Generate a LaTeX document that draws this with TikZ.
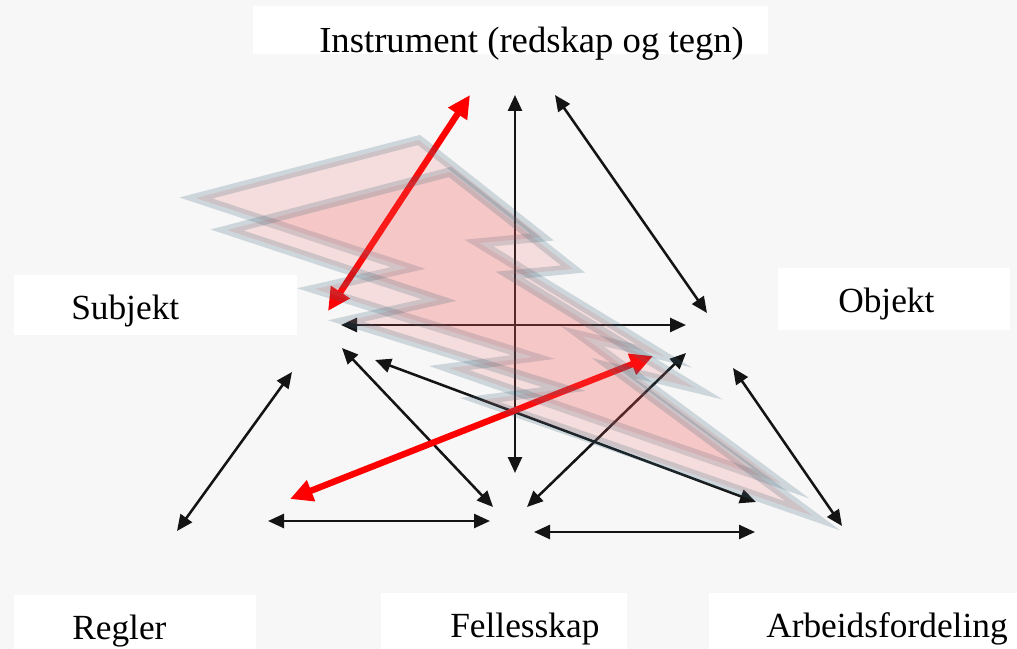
\documentclass[tikz,border=0pt]{standalone}
\usepackage{fontspec}
\setmainfont{Liberation Serif}
\usetikzlibrary{arrows.meta}

\definecolor{bggray}{RGB}{247,247,247}
\definecolor{boltfill}{RGB}{245,90,90}
\definecolor{boltedge}{RGB}{60,100,120}

\begin{document}
\begin{tikzpicture}[
    x=0.75pt, y=-0.75pt,
    >={Triangle[length=12pt, width=10.5pt]},
    lbl/.style={anchor=base west, inner sep=0pt,
                font=\fontsize{26.5pt}{30pt}\selectfont},
    link/.style={<->, line width=1.9pt, black!92},
    redlink/.style={<->, line width=4.8pt, red,
                    >={Triangle[length=17pt, width=16pt]}},
    bolt/.style={fill=boltfill, fill opacity=0.16,
                 draw=boltedge, draw opacity=0.22,
                 line width=7pt, line join=miter}
  ]
  % Background and label boxes
  \fill[bggray] (0,0) rectangle (1017,649);
  \fill[white] (253,6) rectangle (768,54);
  \fill[white] (14,275) rectangle (297,335);
  \fill[white] (778,268) rectangle (1010,330);
  \fill[white] (14,595) rectangle (256,649);
  \fill[white] (381,593) rectangle (627,649);
  \fill[white] (709,593) rectangle (1017,649);

  % Labels
  \node[lbl, font=\fontsize{27.5pt}{30pt}\selectfont] (instr) at (319,53)
    {Instrument (redskap og tegn)};
  \node[lbl] (subj) at (71,319) {Subjekt};
  \node[lbl] (obj) at (838,312) {Objekt};
  \node[lbl] (regler) at (72,639) {Regler};
  \node[lbl] (felles) at (450,637) {Fellesskap};
  \node[lbl] (arbeid) at (766,637) {Arbeidsfordeling};

  % Arrow ends
  \coordinate (iRed) at (470,95);
  \coordinate (iMid) at (515,95);
  \coordinate (iObj) at (555,95);
  \coordinate (sRed) at (328,311);
  \coordinate (sObj) at (341,325);
  \coordinate (sFel) at (342,348);
  \coordinate (sArb) at (375,360);
  \coordinate (sReg) at (292,372);
  \coordinate (oIns) at (707,313);
  \coordinate (oSub) at (686,325);
  \coordinate (oRed) at (653,356);
  \coordinate (oFel) at (686,353);
  \coordinate (oArb) at (733,368);
  \coordinate (rSub) at (177,531);
  \coordinate (rRed) at (290,499);
  \coordinate (rFel) at (268,521);
  \coordinate (fReg) at (490,521);
  \coordinate (fIns) at (515,473);
  \coordinate (fSub) at (493,507);
  \coordinate (fObj) at (527,507);
  \coordinate (fArb) at (534,532);
  \coordinate (aSub) at (756,502);
  \coordinate (aFel) at (755,532);
  \coordinate (aObj) at (842,526);

  % Arrows
  \foreach \a/\b in {iMid/fIns, iObj/oIns, sObj/oSub, sFel/fSub, sArb/aSub,
                     sReg/rSub, oFel/fObj, oArb/aObj, rFel/fReg, fArb/aFel}
    \draw[link] (\a) -- (\b);
  \foreach \a/\b in {iRed/sRed, oRed/rRed}
    \draw[redlink] (\a) -- (\b);

  % Lightning
  \foreach \dx/\dy in {0/0, 31/32}
    \draw[bolt, shift={(\dx,\dy)}] (419,140) -- (196,198) -- (408,268)
      -- (315,289) -- (533,357) -- (449,368) -- (782,484) -- (582,336)
      -- (664,356) -- (479,243) -- (542,237) -- cycle;
\end{tikzpicture}
\end{document}
